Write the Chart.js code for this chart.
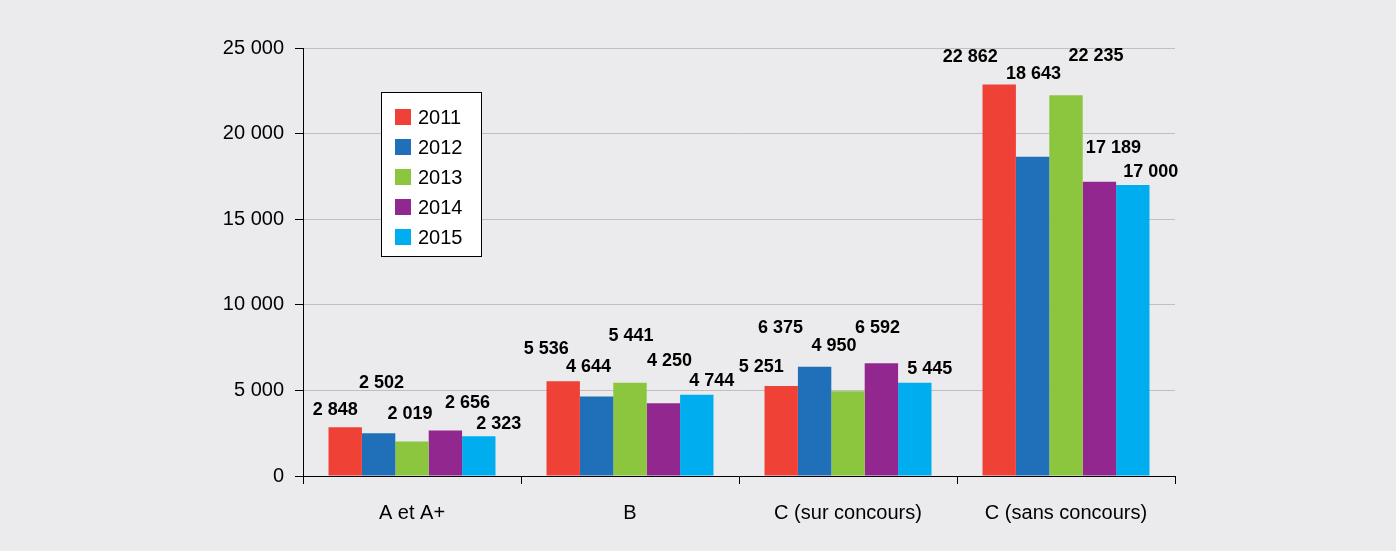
<!DOCTYPE html>
<html lang="fr">
<head>
<meta charset="utf-8">
<title>Recrutements par catégorie</title>
<script src="https://cdn.jsdelivr.net/npm/chart.js@4.4.1/dist/chart.umd.min.js"></script>
<style>
  html, body { margin: 0; padding: 0; background: #ebebed; }
  #wrap { width: 1396px; height: 551px; position: relative; }
</style>
</head>
<body>
<div id="wrap"><canvas id="myChart"></canvas></div>
<script>
'use strict'

// Data

let categories = ['A et A+', 'B', 'C (sur concours)', 'C (sans concours)'];
let years = ['2011', '2012', '2013', '2014', '2015'];
let values2011 = [2848, 5536, 5251, 22862];
let values2012 = [2502, 4644, 6375, 18643];
let values2013 = [2019, 5441, 4950, 22235];
let values2014 = [2656, 4250, 6592, 17189];
let values2015 = [2323, 4744, 5445, 17000];
let yTicks = [0, 5000, 10000, 15000, 20000, 25000];

let seriesColors = ['#ef4136', '#1f70b8', '#8cc63f', '#92278f', '#00aeef'];

// label placement relative to the top of each bar (px), one row per year
let labelShiftX = [
  [-10, -17, -20, -29],
  [3, -8, -34, 1],
  [-2, 1, -14, 30],
  [22, 6, -4, 14],
  [20, 15, 15, 18]
];
let labelLift = [
  [17, 32, 19, 28],
  [50, 29, 39, 83],
  [27, 47, 45, 39],
  [27, 42, 35, 34],
  [12, 14, 14, 13]
];

const FONT = "'Liberation Sans', Arial, sans-serif";

function formatNumber(v) {
  return String(v).replace(/\B(?=(\d{3})+(?!\d))/g, ' ');
}

// Plugins

const barLabels = {
  id: 'barLabels',
  afterDatasetsDraw(chart) {
    const ctx = chart.ctx;
    ctx.save();
    ctx.font = 'bold 18px ' + FONT;
    ctx.fillStyle = '#000';
    ctx.textAlign = 'center';
    ctx.textBaseline = 'middle';
    chart.data.datasets.forEach((ds, i) => {
      const meta = chart.getDatasetMeta(i);
      meta.data.forEach((bar, j) => {
        const x = bar.x + labelShiftX[i][j];
        const y = bar.y - labelLift[i][j];
        ctx.fillText(formatNumber(ds.data[j]), x, y);
      });
    });
    ctx.restore();
  }
};

const boxLegend = {
  id: 'boxLegend',
  afterDraw(chart) {
    const ctx = chart.ctx;
    const area = chart.chartArea;
    const left = area.left + 78;
    const top = area.top + 44;
    const rowH = 30;
    const boxW = 100;
    const boxH = chart.data.datasets.length * rowH + 14;
    ctx.save();
    ctx.fillStyle = '#fff';
    ctx.fillRect(left, top, boxW, boxH);
    ctx.strokeStyle = '#000';
    ctx.lineWidth = 1;
    ctx.strokeRect(left + 0.5, top + 0.5, boxW, boxH);
    ctx.font = '20px ' + FONT;
    ctx.textBaseline = 'middle';
    ctx.textAlign = 'left';
    chart.data.datasets.forEach((ds, i) => {
      const cy = top + 25 + i * rowH;
      ctx.fillStyle = ds.backgroundColor;
      ctx.fillRect(left + 14, cy - 8, 16, 16);
      ctx.fillStyle = '#000';
      ctx.fillText(ds.label, left + 37, cy + 1);
    });
    ctx.restore();
  }
};

// Chart

function renderChart() {
  let allValues = [values2011, values2012, values2013, values2014, values2015];
  let datasets = [];
  for (let i = 0; i < years.length; i++) {
    datasets.push({
      label: years[i],
      data: allValues[i],
      backgroundColor: seriesColors[i],
      borderWidth: 0
    });
  }

  const config = {
    type: 'bar',
    data: {
      labels: categories,
      datasets: datasets
    },
    options: {
      responsive: true,
      maintainAspectRatio: false,
      animation: false,
      categoryPercentage: 0.766,
      barPercentage: 1.0,
      layout: {
        padding: { top: 48, right: 221, left: 0, bottom: 0 }
      },
      plugins: {
        legend: { display: false },
        tooltip: { enabled: false }
      },
      scales: {
        x: {
          grid: {
            display: true,
            drawOnChartArea: false,
            tickColor: '#000',
            tickLength: 8
          },
          border: { color: '#000', width: 1 },
          ticks: {
            color: '#000',
            font: { family: FONT, size: 20 },
            padding: 17
          },
          afterFit(scale) { scale.height = 75; }
        },
        y: {
          min: 0,
          max: 25000,
          afterBuildTicks(scale) {
            scale.ticks = yTicks.map(v => ({ value: v }));
          },
          grid: {
            color: '#bfbfbf',
            tickColor: '#000',
            tickLength: 8
          },
          border: { color: '#000', width: 1 },
          ticks: {
            color: '#000',
            font: { family: FONT, size: 20 },
            padding: 11,
            callback: v => formatNumber(v)
          },
          afterFit(scale) { scale.width = 303; }
        }
      }
    },
    plugins: [barLabels, boxLegend]
  };

  const myChart = new Chart(document.getElementById('myChart'), config);
}

renderChart();
</script>
</body>
</html>
